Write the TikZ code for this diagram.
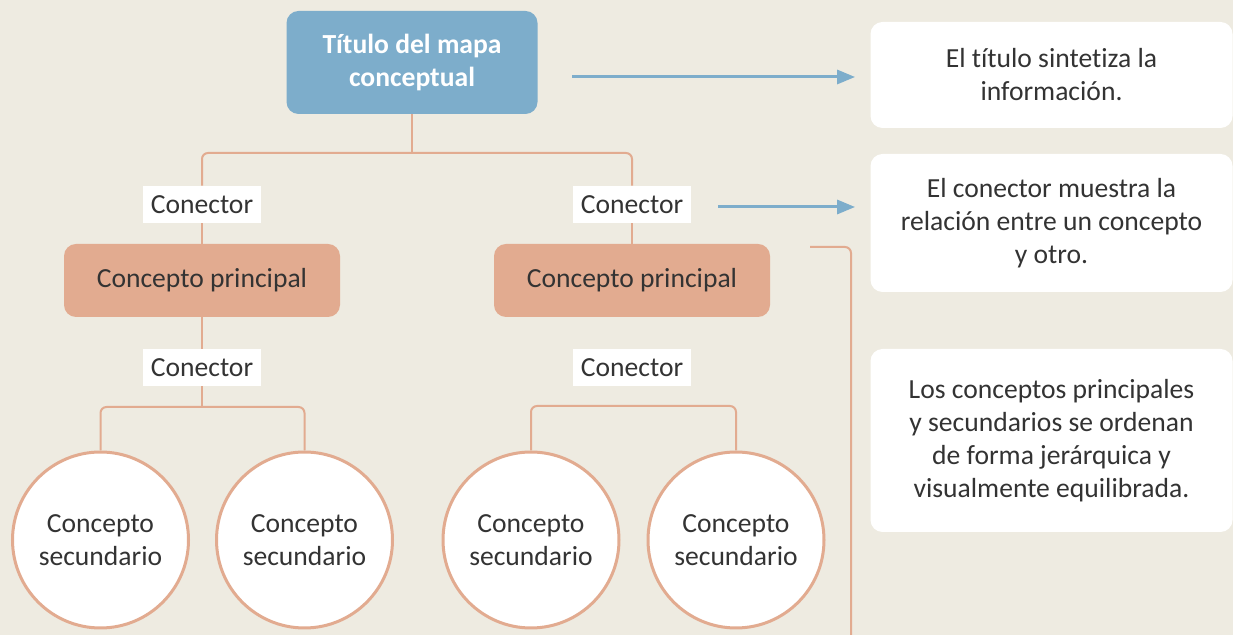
\documentclass[tikz,border=0pt]{standalone}
\usepackage{fontspec}
\setmainfont{Carlito}[Ligatures=NoCommon]
\usetikzlibrary{arrows.meta,calc,positioning}
\definecolor{paper}{RGB}{238,235,225}
\definecolor{mapblue}{RGB}{125,173,203}
\definecolor{salmon}{RGB}{226,171,144}
\definecolor{ink}{RGB}{51,51,51}

\begin{document}
\begin{tikzpicture}[x=0.5pt,y=-0.5pt,>={Triangle[length=9pt,width=7pt]},
  every node/.style={font=\fontsize{13.8}{16.5}\selectfont,text=ink,align=center,inner sep=0pt},
  titlebox/.style={fill=mapblue,rounded corners=6pt,minimum width=125.5pt,minimum height=51.5pt,text=white,font=\fontsize{13.8}{16.5}\selectfont\bfseries},
  mainbox/.style={fill=salmon,rounded corners=6pt,minimum width=138pt,minimum height=36.5pt},
  linkbox/.style={fill=white,minimum width=59pt,minimum height=18.5pt},
  subconcept/.style={circle,draw=salmon,line width=1.5pt,fill=white,minimum size=88pt},
  notebox/.style={fill=white,rounded corners=6pt,minimum width=181pt},
  link/.style={draw=salmon,line width=1pt,rounded corners=3pt},
  pointer/.style={->,draw=mapblue,fill=mapblue,line width=1.5pt}]
  \fill[paper] (0,0) rectangle (1233,635);
  \useasboundingbox (0,0) rectangle (1233,635);

  \node[titlebox] (title) at (412,62.5) {Título del mapa\\conceptual};
  \node[linkbox] (conL1) at (202,204.5) {Conector};
  \node[linkbox] (conR1) at (632,204.5) {Conector};
  \node[mainbox] (ppL) at (202,280.5) {Concepto principal};
  \node[mainbox] (ppR) at (632,280.5) {Concepto principal};
  \node[linkbox] (conL2) at (202,367.5) {Conector};
  \node[linkbox] (conR2) at (632,367.5) {Conector};
  \node[subconcept] (sc1) at (100.5,540) {Concepto\\secundario};
  \node[subconcept] (sc2) at (304.5,540) {Concepto\\secundario};
  \node[subconcept] (sc3) at (531,540) {Concepto\\secundario};
  \node[subconcept] (sc4) at (736,540) {Concepto\\secundario};

  \node[notebox,minimum height=53pt] (note1) at (1051.5,75) {El título sintetiza la\\información.};
  \node[notebox,minimum height=69pt] (note2) at (1051.5,223) {El conector muestra la\\relación entre un concepto\\y otro.};
  \node[notebox,minimum height=91.5pt] (note3) at (1051.5,440.5) {Los conceptos principales\\y secundarios se ordenan\\de forma jerárquica y\\visualmente equilibrada.};

  \coordinate (top) at (412,153);
  \coordinate (forkL) at (202,407);
  \coordinate (forkR) at (633,406);
  \coordinate (brace) at (810,247);
  \coordinate (braceEnd) at (851,635);
  \coordinate (tip1) at (572,77);

  % tree
  \draw[link] (title) -- (top);
  \draw[link] (conL1.north) |- (top) -| (conR1.north);
  \draw[link] (conL1) -- (ppL);
  \draw[link] (conR1) -- (ppR);
  \draw[link] (ppL) -- (conL2);
  \draw[link] (conL2) -- (forkL);
  \draw[link] (sc1.north) |- (forkL) -| (sc2.north);
  \draw[link] (sc3.north) |- (forkR) -| (sc4.north);
  \draw[link] (brace) -| (braceEnd);

  % notes
  \draw[pointer,shorten >=7.5pt] (tip1) -- (tip1 -| note1.west);
  \draw[pointer,shorten >=7.5pt] ([xshift=13.5pt,yshift=-1.25pt]conR1.east) -- ([yshift=-1.25pt]conR1.east -| note2.west);
\end{tikzpicture}
\end{document}
